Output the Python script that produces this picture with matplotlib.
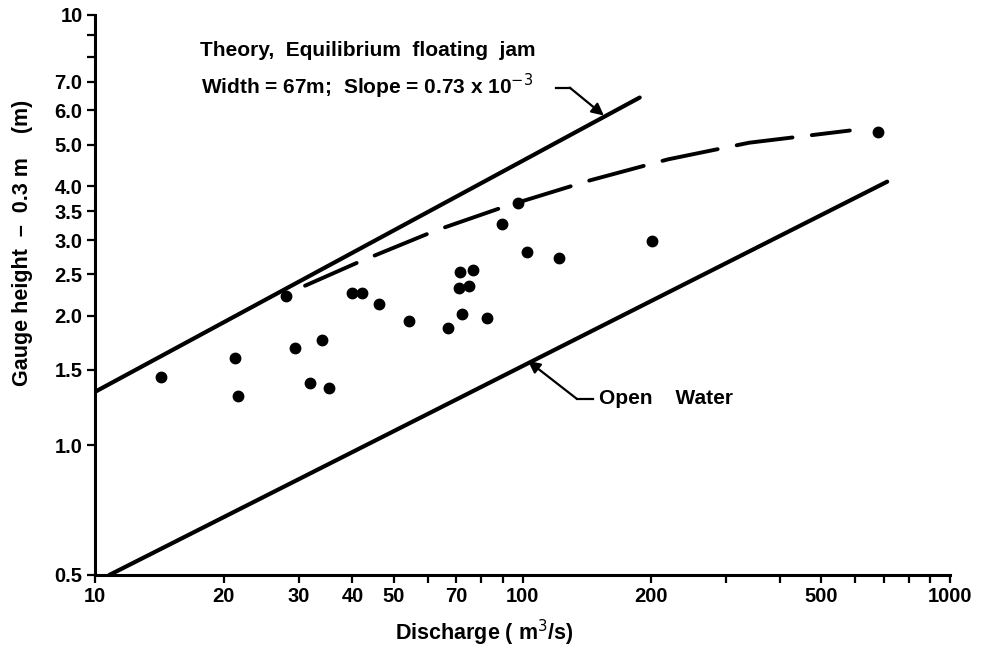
import numpy as np
import matplotlib.pyplot as plt

plt.rcParams['font.family'] = ['Liberation Sans', 'DejaVu Sans']

# observed jam stages (discharge m3/s, gauge height - 0.3 m)
discharge = [14.3, 21.3, 21.6, 28.0, 29.4, 31.8, 34.0, 35.3, 39.9, 42.2,
             46.2, 54.3, 67.1, 71.4, 76.5, 71.2, 75.0, 72.3, 82.5, 89.7,
             97.4, 102.5, 121.7, 201.0, 677.0]
gauge = [1.445, 1.595, 1.30, 2.22, 1.68, 1.40, 1.76, 1.36, 2.255, 2.255,
         2.13, 1.945, 1.87, 2.53, 2.55, 2.32, 2.35, 2.025, 1.98, 3.27,
         3.66, 2.81, 2.73, 2.99, 5.35]

# theory line, equilibrium floating jam
theory_q = [10.0, 188.0]
theory_h = [1.332, 6.43]

# open water rating line
open_q = [10.8, 713.0]
open_h = [0.5, 4.10]

# dashed envelope through the data
env_q = [31.0, 41.5, 62.8, 91.0, 144.0, 219.0, 339.0, 583.0]
env_h = [2.35, 2.67, 3.16, 3.59, 4.13, 4.62, 5.05, 5.39]

xticks = [10, 20, 30, 40, 50, 60, 70, 80, 90, 100, 200, 300, 400, 500,
          600, 700, 800, 900, 1000]
xlabels = ['10', '20', '30', '40', '50', '', '70', '', '', '100', '200', '',
           '', '500', '', '', '', '', '1000']
yticks = [0.5, 1.0, 1.5, 2.0, 2.5, 3.0, 3.5, 4.0, 5.0, 6.0, 7.0, 8.0, 9.0, 10]
ylabels = ['0.5', '1.0', '1.5', '2.0', '2.5', '3.0', '3.5', '4.0', '5.0',
           '6.0', '7.0', '', '', '10']

fig = plt.figure(figsize=(9.85, 6.49), dpi=100)
ax = fig.add_axes([95 / 985, 1 - 575 / 649, 855 / 985, 560 / 649])

ax.set_xscale('log')
ax.set_yscale('log')
ax.set_xlim(10, 1000)
ax.set_ylim(0.5, 10)

ax.plot(theory_q, theory_h, color='black', lw=3, solid_capstyle='round')
ax.plot(open_q, open_h, color='black', lw=3, solid_capstyle='round')
ax.plot(env_q, env_h, color='black', lw=2.8, linestyle=(0, (14.5, 5)),
        dash_capstyle='round')
ax.plot(discharge, gauge, 'o', color='black', markersize=7.5, zorder=5)

ax.minorticks_off()
ax.set_xticks(xticks)
ax.set_xticklabels(xlabels)
ax.set_yticks(yticks)
ax.set_yticklabels(ylabels)
ax.tick_params(direction='out', length=6, width=1.6, labelsize=14.5, pad=3)
for lab in ax.get_xticklabels() + ax.get_yticklabels():
    lab.set_fontweight('bold')

for side in ['top', 'right']:
    ax.spines[side].set_visible(False)
for side in ['left', 'bottom']:
    ax.spines[side].set_linewidth(2.2)

ax.set_xlabel('Discharge ( m$^3$/s)', fontsize=15.5, fontweight='bold')
ax.set_ylabel('Gauge height  \u2013  0.3 m    (m)', fontsize=15.5,
              fontweight='bold')
ax.yaxis.set_label_coords(-0.072, 0.593)
ax.xaxis.set_label_coords(0.455, -0.077)

txt = dict(fontsize=15, fontweight='bold', va='center', ha='left')
ax.text(17.6, 8.27, 'Theory,  Equilibrium  floating  jam', **txt)
ax.text(17.7, 6.82, 'Width = 67m;  Slope = 0.73 x 10$^{-3}$', **txt)
ax.text(151, 1.283, 'Open    Water', **txt)

# leader arrows
ax.plot([119.8, 129], [6.78, 6.78], color='black', lw=1.6)
ax.annotate('', xy=(155, 5.84), xytext=(129, 6.78),
            arrowprops=dict(arrowstyle='-|>', color='black', lw=1.6,
                            mutation_scale=18, shrinkA=0, shrinkB=0))
ax.plot([134, 146], [1.283, 1.283], color='black', lw=1.6)
ax.annotate('', xy=(103, 1.572), xytext=(134, 1.283),
            arrowprops=dict(arrowstyle='-|>', color='black', lw=1.6,
                            mutation_scale=18, shrinkA=0, shrinkB=0))

fig.savefig('out.png', dpi=100)
